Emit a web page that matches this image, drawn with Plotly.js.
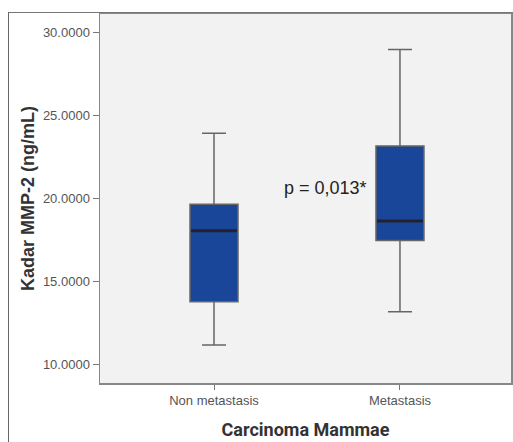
<!DOCTYPE html>
<html>
<head>
<meta charset="utf-8">
<script src="https://cdn.plot.ly/plotly-3.0.1.min.js"></script>
<style>
html,body{margin:0;padding:0;background:#fff;}
#frame{position:absolute;left:8px;top:12px;width:600px;height:500px;border-left:1px solid #666;border-top:1.5px solid #777;box-sizing:border-box;}
#chart{position:absolute;left:0;top:0;width:513px;height:442px;}
</style>
</head>
<body>
<div id="frame"></div>
<div id="chart"></div>
<script>
const categories = ["Non metastasis", "Metastasis"];
const lowerWhisker = [11.15, 13.16];
const q1Values = [13.76, 17.47];
const medianValues = [18.05, 18.64];
const q3Values = [19.65, 23.17];
const upperWhisker = [23.94, 29.0];
const yTickValues = [10, 15, 20, 25, 30];
const yTickLabels = ["10.0000", "15.0000", "20.0000", "25.0000", "30.0000"];
const pText = "p = 0,013*";
const pTextY = 20.63;

const boxWidth = 0.258;

const trace = {
  type: "box",
  x: categories,
  q1: q1Values,
  median: medianValues,
  q3: q3Values,
  lowerfence: lowerWhisker,
  upperfence: upperWhisker,
  width: boxWidth,
  whiskerwidth: 0.5,
  fillcolor: "#1a4699",
  line: {color: "#666666", width: 1.5},
  boxpoints: false,
  hoverinfo: "skip",
  showlegend: false
};

const medianShapes = categories.map((c, i) => ({
  type: "line",
  xref: "x", yref: "y",
  x0: i - boxWidth / 2 + 0.005, x1: i + boxWidth / 2 - 0.005,
  y0: medianValues[i], y1: medianValues[i],
  line: {color: "#22222e", width: 3}
}));

const layout = {
  width: 513, height: 442,
  margin: {l: 100, r: 2, t: 14, b: 59},
  paper_bgcolor: "rgba(0,0,0,0)",
  plot_bgcolor: "#f2f2f2",
  font: {family: "Arial, Liberation Sans, sans-serif", color: "#555"},
  xaxis: {
    type: "category",
    range: [-0.613, 1.597],
    showline: true, linecolor: "#888", linewidth: 1.5, mirror: true,
    ticks: "outside", ticklen: 5, tickcolor: "#777", tickwidth: 1,
    tickfont: {size: 13, color: "#555"},
    showgrid: false, zeroline: false,
    title: {text: "Carcinoma Mammae", font: {size: 18, color: "#333", family: "Roboto, Arial, sans-serif", weight: "bold"}, standoff: 16}
  },
  yaxis: {
    range: [8.86, 31.14],
    tickvals: yTickValues, ticktext: yTickLabels,
    showline: true, linecolor: "#888", linewidth: 1.5, mirror: true,
    ticks: "outside", ticklen: 6, tickcolor: "#777", tickwidth: 1,
    tickfont: {size: 13, color: "#555"},
    showgrid: false, zeroline: false,
    title: {text: "Kadar MMP-2 (ng/mL)", font: {size: 18, color: "#333", weight: "bold"}, standoff: 3}
  },
  shapes: medianShapes,
  annotations: [{
    xref: "paper", yref: "y",
    x: 0.6545, y: pTextY, xanchor: "right",
    text: pText, showarrow: false,
    font: {size: 18, color: "#222"}
  }]
};

Plotly.newPlot("chart", [trace], layout, {displayModeBar: false, staticPlot: true});
</script>
</body>
</html>
